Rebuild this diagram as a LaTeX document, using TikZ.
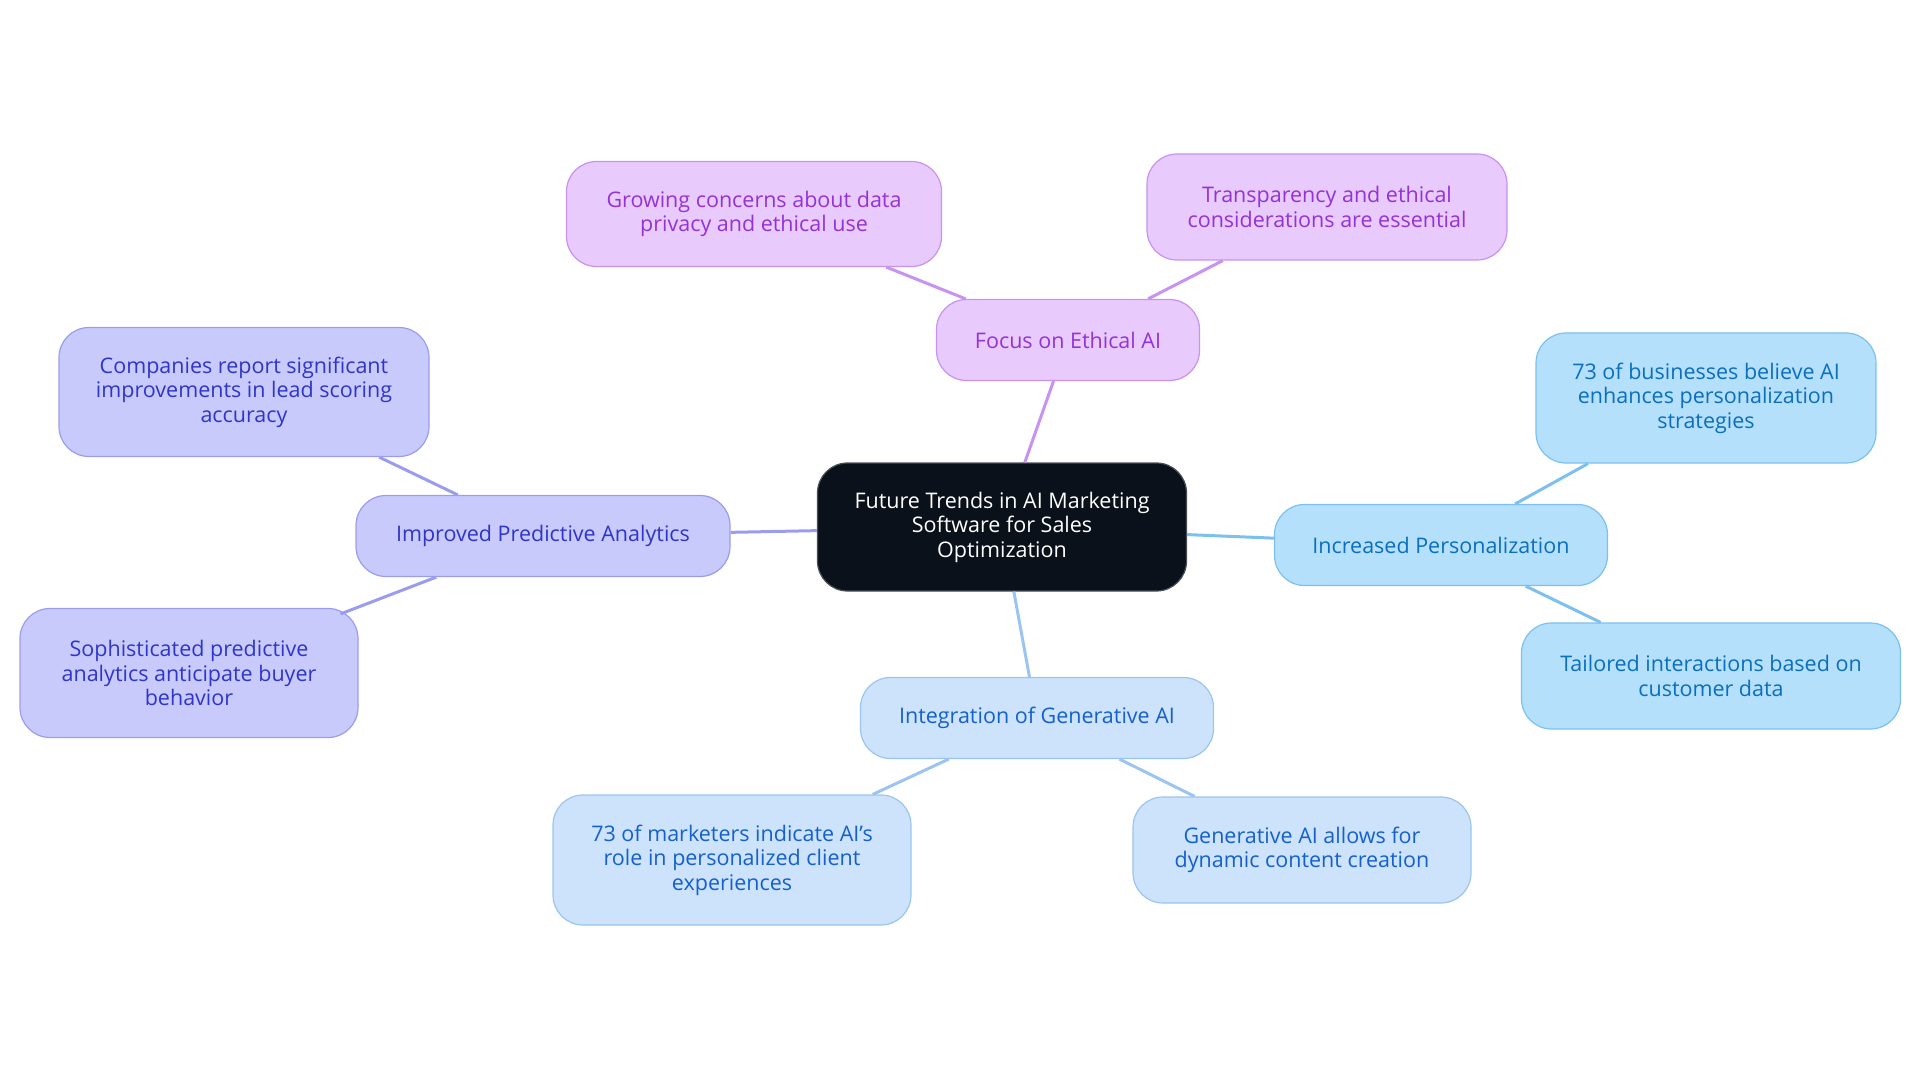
\documentclass[tikz,border=0pt]{standalone}
\usepackage{fontspec}
\setmainfont{Open Sans}
\usepackage{tikz}
\usetikzlibrary{shapes}

\definecolor{rootfill}{HTML}{0B111A}
\definecolor{rootline}{HTML}{4A4F57}
\definecolor{ethfill}{HTML}{E9CAFD}
\definecolor{ethline}{HTML}{C792F0}
\definecolor{ethtext}{HTML}{9333D6}
\definecolor{prdfill}{HTML}{C8CAFC}
\definecolor{prdline}{HTML}{9A9CF0}
\definecolor{prdtext}{HTML}{2F35C9}
\definecolor{perfill}{HTML}{B4E0FC}
\definecolor{perline}{HTML}{7CC0F0}
\definecolor{pertext}{HTML}{0B6EBE}
\definecolor{genfill}{HTML}{CCE3FB}
\definecolor{genline}{HTML}{9CC4F0}
\definecolor{gentext}{HTML}{1560CC}

\begin{document}
\begin{tikzpicture}[x=1pt,y=1pt,
    box/.style={rectangle,rounded corners=30pt,line width=1.2pt,inner sep=0pt,
        align=center,font=\fontsize{21.5}{24.5}\selectfont},
    eth/.style={box,fill=ethfill,draw=ethline,text=ethtext},
    prd/.style={box,fill=prdfill,draw=prdline,text=prdtext},
    per/.style={box,fill=perfill,draw=perline,text=pertext},
    gen/.style={box,fill=genfill,draw=genline,text=gentext},
    link/.style={line width=3pt}]
    \useasboundingbox (0,0) rectangle (1920,-1083);

    \node[box,fill=rootfill,draw=rootline,text=white,minimum width=369pt,minimum height=128pt]
        (root) at (1002,-527) {Future Trends in AI Marketing\\Software for Sales\\Optimization};

    \node[eth,minimum width=263pt,minimum height=81pt] (ethic) at ([shift={(66,187)}]root) {Focus on Ethical AI};
    \node[eth,minimum width=375pt,minimum height=105pt] (grow) at ([shift={(-314,126)}]ethic) {Growing concerns about data\\privacy and ethical use};
    \node[eth,minimum width=360pt,minimum height=106pt] (transp) at ([shift={(259,133)}]ethic) {Transparency and ethical\\considerations are essential};

    \node[prd,minimum width=374pt,minimum height=81pt] (pred) at ([shift={(-459,-9)}]root) {Improved Predictive Analytics};
    \node[prd,minimum width=370pt,minimum height=129pt] (comp) at ([shift={(-299,144)}]pred) {Companies report significant\\improvements in lead scoring\\accuracy};
    \node[prd,minimum width=338pt,minimum height=129pt] (soph) at ([shift={(-354,-137)}]pred) {Sophisticated predictive\\analytics anticipate buyer\\behavior};

    \node[per,minimum width=333pt,minimum height=81pt] (pers) at ([shift={(439,-18)}]root) {Increased Personalization};
    \node[per,minimum width=340pt,minimum height=130pt] (biz) at ([shift={(265,147)}]pers) {73 of businesses believe AI\\enhances personalization\\strategies};
    \node[per,minimum width=379pt,minimum height=106pt] (tail) at ([shift={(270,-131)}]pers) {Tailored interactions based on\\customer data};

    \node[gen,minimum width=353pt,minimum height=81pt] (genai) at ([shift={(35,-191)}]root) {Integration of Generative AI};
    \node[gen,minimum width=358pt,minimum height=130pt] (mkt) at ([shift={(-305,-142)}]genai) {73 of marketers indicate AI's\\role in personalized client\\experiences};
    \node[gen,minimum width=338pt,minimum height=106pt] (dyn) at ([shift={(265,-132)}]genai) {Generative AI allows for\\dynamic content creation};

    % connectors
    \draw[link,ethline] (root) -- (ethic);
    \draw[link,ethline] (ethic) -- (grow);
    \draw[link,ethline] (ethic) -- (transp);
    \draw[link,prdline] (root) -- (pred);
    \draw[link,prdline] (pred) -- (comp);
    \draw[link,prdline] (pred) -- ([shift={(-18,-6)}]soph.north east);
    \draw[link,perline] (root) -- (pers);
    \draw[link,perline] (pers) -- (biz);
    \draw[link,perline] (pers) -- (tail);
    \draw[link,genline] (root) -- (genai);
    \draw[link,genline] (genai) -- (mkt);
    \draw[link,genline] (genai) -- (dyn);
\end{tikzpicture}
\end{document}
